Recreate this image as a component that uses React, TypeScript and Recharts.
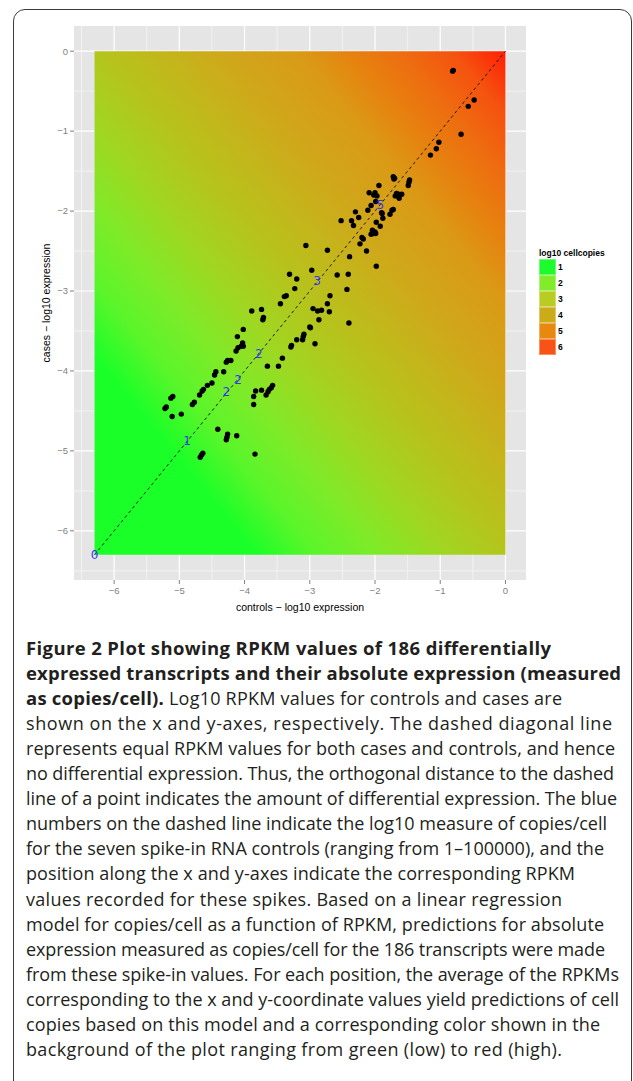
import {
  ScatterChart,
  Scatter,
  XAxis,
  YAxis,
  CartesianGrid,
  ReferenceArea,
  ReferenceLine,
  Label,
} from "recharts";

// log10 RPKM: [controls, cases]
const transcripts: [number, number][] = [
  [-0.80, -0.24], [-0.81, -0.25], [-0.48, -0.61], [-0.57, -0.69],
  [-0.68, -1.04], [-1.02, -1.14], [-1.06, -1.22], [-1.15, -1.30],
  [-1.72, -1.57], [-1.70, -1.59], [-1.71, -1.60], [-1.47, -1.61],
  [-1.48, -1.64], [-1.49, -1.68], [-1.94, -1.68], [-2.09, -1.77],
  [-2.00, -1.77], [-1.97, -1.81], [-2.02, -1.80], [-1.67, -1.78],
  [-1.64, -1.79], [-1.62, -1.80], [-1.69, -1.81], [-1.63, -1.84],
  [-1.59, -1.79], [-2.06, -1.93], [-1.99, -1.88], [-1.72, -1.98],
  [-1.74, -1.99], [-1.77, -2.04], [-1.90, -2.02], [-1.89, -2.03],
  [-2.11, -1.99], [-2.30, -2.01], [-2.25, -2.08], [-2.52, -2.12],
  [-2.36, -2.12], [-2.33, -2.18], [-1.88, -2.09], [-1.98, -2.14],
  [-1.92, -2.19], [-2.04, -2.24], [-2.00, -2.26], [-2.03, -2.28],
  [-2.06, -2.29], [-1.99, -2.28], [-2.20, -2.33], [-2.18, -2.35],
  [-2.23, -2.41], [-2.13, -2.50], [-1.98, -2.69], [-3.06, -2.43],
  [-2.73, -2.49], [-2.39, -2.57], [-2.97, -2.74], [-2.58, -2.80],
  [-2.41, -2.79], [-3.31, -2.79], [-3.20, -2.85], [-3.23, -2.97],
  [-3.36, -3.06], [-3.39, -3.07], [-3.45, -3.16], [-2.43, -2.98],
  [-2.69, -3.06], [-2.73, -3.16], [-2.95, -3.22], [-2.88, -3.25],
  [-2.82, -3.24], [-2.70, -3.26], [-2.86, -3.36], [-2.99, -3.46],
  [-3.00, -3.45], [-2.40, -3.40], [-3.09, -3.54], [-3.10, -3.57],
  [-3.11, -3.61], [-3.20, -3.61], [-3.28, -3.68], [-3.29, -3.70],
  [-2.92, -3.66], [-3.74, -3.23], [-3.89, -3.25], [-3.71, -3.33],
  [-3.72, -3.36], [-4.02, -3.48], [-4.11, -3.57], [-4.03, -3.65],
  [-4.05, -3.69], [-4.10, -3.71], [-4.02, -3.69], [-4.13, -3.75],
  [-4.26, -3.87], [-4.21, -3.87], [-4.28, -3.89], [-3.42, -3.84],
  [-3.48, -3.94], [-3.65, -3.94], [-4.44, -4.01], [-4.46, -4.05],
  [-4.32, -4.01], [-4.50, -4.15], [-4.57, -4.18], [-4.63, -4.23],
  [-4.65, -4.25], [-4.69, -4.30], [-4.77, -4.39], [-4.80, -4.42],
  [-5.10, -4.32], [-5.13, -4.34], [-5.22, -4.47], [-5.20, -4.45],
  [-5.11, -4.57], [-4.97, -4.54], [-3.57, -4.18], [-3.59, -4.21],
  [-3.62, -4.23], [-3.64, -4.26], [-3.67, -4.30], [-3.74, -4.24],
  [-3.83, -4.25], [-3.86, -4.32], [-3.86, -4.42], [-4.41, -4.73],
  [-4.26, -4.79], [-4.27, -4.83], [-4.28, -4.86], [-4.12, -4.81],
  [-4.64, -5.03], [-4.66, -5.05], [-4.68, -5.08], [-3.84, -5.04],
];

// spike-in RNA controls (log10 copies/cell)
const spikeControls = [-6.3, -4.88, -4.28, -4.1, -3.78, -2.89, -1.92];
const spikeCases = [-6.3, -4.88, -4.26, -4.11, -3.79, -2.88, -1.92];
const spikeLabels = ["0", "1", "2", "2", "2", "3", "5"];

const axisTicks = [-6, -5, -4, -3, -2, -1, 0];
const minorTicks = [-6.5, -5.5, -4.5, -3.5, -2.5, -1.5, -0.5];
const AXIS_DOMAIN: [number, number] = [-6.615, 0.315];
const BG_MIN = -6.3;
const BG_MAX = 0;

// background colour by mean log10 RPKM of x and y
const gradientValues = [-6.3, -5.05, -4.6, -4.1, -3.6, -3.1, -2.6, -2.2, -1.6, -1.2, -0.8, -0.4, 0];
const gradientColors = [
  "#1bff28", "#1bff28", "#5af52a", "#80ea28", "#a0d621", "#b5c41c", "#c4b51b",
  "#cfa81a", "#da9a16", "#e6820f", "#ee6c10", "#f5520f", "#ff1e05",
];

const legendLevels = ["1", "2", "3", "4", "5", "6"];
const legendColors = ["#1cfb2b", "#82ec2a", "#b9cc22", "#ccab19", "#e8880f", "#f95215"];

const captionLines: { bold?: string; text?: string }[] = [
  { bold: "Figure 2 Plot showing RPKM values of 186 differentially" },
  { bold: "expressed transcripts and their absolute expression (measured" },
  { bold: "as copies/cell).", text: " Log10 RPKM values for controls and cases are" },
  { text: "shown on the x and y-axes, respectively. The dashed diagonal line" },
  { text: "represents equal RPKM values for both cases and controls, and hence" },
  { text: "no differential expression. Thus, the orthogonal distance to the dashed" },
  { text: "line of a point indicates the amount of differential expression. The blue" },
  { text: "numbers on the dashed line indicate the log10 measure of copies/cell" },
  { text: "for the seven spike-in RNA controls (ranging from 1\u2013100000), and the" },
  { text: "position along the x and y-axes indicate the corresponding RPKM" },
  { text: "values recorded for these spikes. Based on a linear regression" },
  { text: "model for copies/cell as a function of RPKM, predictions for absolute" },
  { text: "expression measured as copies/cell for the 186 transcripts were made" },
  { text: "from these spike-in values. For each position, the average of the RPKMs" },
  { text: "corresponding to the x and y-coordinate values yield predictions of cell" },
  { text: "copies based on this model and a corresponding color shown in the" },
  { text: "background of the plot ranging from green (low) to red (high)." },
];
// set widths of the typeset caption lines
const captionWidths = [525, 595, 536, 586, 589, 588, 591, 581, 578, 549, 536, 578, 579, 593, 593, 574, 536];

const fmtTick = (v: number) => (v === 0 ? "0" : `\u2212${Math.abs(v)}`);
const tickStyle = { fill: "#7f7f7f", fontSize: 9.5, fontFamily: "Liberation Sans, Arial, sans-serif" };

export default function App() {
  const pointData = transcripts.map(([x, y]) => ({ x, y }));
  const spikeData = spikeControls.map((x, i) => ({ x, y: spikeCases[i], label: spikeLabels[i] }));

  return (
    <div
      style={{
        position: "absolute",
        left: 0,
        top: 0,
        width: 633,
        height: 1081,
        overflow: "hidden",
        background: "#fff",
      }}
    >
      {/* figure frame */}
      <div
        style={{
          position: "absolute",
          left: 13,
          top: 9,
          width: 617,
          height: 1100,
          border: "1.5px solid #3a3a3a",
          borderRadius: 12,
        }}
      />

      <div style={{ position: "absolute", left: 0, top: 0 }}>
        <ScatterChart
          width={633}
          height={625}
          margin={{ top: 26, right: 107, bottom: 11, left: 34 }}
        >
          <defs>
            <linearGradient id="cellGrad" x1="0" y1="1" x2="1" y2="0">
              {gradientValues.map((v, i) => (
                <stop
                  key={i}
                  offset={(v - BG_MIN) / (BG_MAX - BG_MIN)}
                  stopColor={gradientColors[i]}
                />
              ))}
            </linearGradient>
          </defs>
          <CartesianGrid
            fill="#e5e5e5"
            stroke="#f2f2f2"
            strokeWidth={1}
            horizontalValues={minorTicks}
            verticalValues={minorTicks}
          />
          <CartesianGrid
            stroke="#ffffff"
            strokeWidth={1.2}
            horizontalValues={axisTicks}
            verticalValues={axisTicks}
          />
          <XAxis
            type="number"
            dataKey="x"
            domain={AXIS_DOMAIN}
            ticks={axisTicks}
            tickFormatter={fmtTick}
            allowDataOverflow
            height={34}
            axisLine={false}
            tickSize={4}
            tickMargin={3}
            tickLine={{ stroke: "#7f7f7f" }}
            tick={tickStyle}
          >
            <Label
              value="controls − log10 expression"
              position="insideBottom"
              offset={3}
              fill="#000"
              fontSize={10.5}
              fontFamily="Liberation Sans, Arial, sans-serif"
            />
          </XAxis>
          <YAxis
            type="number"
            dataKey="y"
            domain={AXIS_DOMAIN}
            ticks={axisTicks}
            tickFormatter={fmtTick}
            allowDataOverflow
            width={40}
            axisLine={false}
            tickSize={4}
            tickMargin={2}
            tickLine={{ stroke: "#7f7f7f" }}
            tick={tickStyle}
          >
            <Label
              value="cases − log10 expression"
              angle={-90}
              position="insideLeft"
              offset={12}
              fill="#000"
              fontSize={10.5}
              fontFamily="Liberation Sans, Arial, sans-serif"
              style={{ textAnchor: "middle" }}
            />
          </YAxis>
          <ReferenceArea
            x1={BG_MIN}
            x2={BG_MAX}
            y1={BG_MIN}
            y2={BG_MAX}
            fill="url(#cellGrad)"
            fillOpacity={1}
            stroke="none"
          />
          <ReferenceLine
            segment={[
              { x: BG_MIN, y: BG_MIN },
              { x: BG_MAX, y: BG_MAX },
            ]}
            stroke="#1a1a1a"
            strokeWidth={1}
            strokeDasharray="3 3"
          />
          <Scatter
            data={pointData}
            isAnimationActive={false}
            shape={(p: any) => <circle cx={p.cx} cy={p.cy} r={2.7} fill="#000" />}
          />
          <Scatter
            data={spikeData}
            isAnimationActive={false}
            shape={(p: any) => (
              <text
                x={p.cx}
                y={p.cy}
                textAnchor="middle"
                dominantBaseline="central"
                fontSize={12}
                fontFamily="DejaVu Sans, sans-serif"
                fill="#3535f5"
              >
                {p.payload.label}
              </text>
            )}
          />
        </ScatterChart>
      </div>

      {/* legend */}
      <div
        style={{
          position: "absolute",
          left: 539,
          top: 247,
          fontFamily: "Liberation Sans, Arial, sans-serif",
          fontWeight: 700,
          fontSize: 8.5,
          color: "#000",
        }}
      >
        <div style={{ height: 12, lineHeight: "12px", whiteSpace: "nowrap" }}>log10 cellcopies</div>
        {legendLevels.map((lv, i) => (
          <div key={lv} style={{ display: "flex", alignItems: "center", height: 16 }}>
            <div
              style={{
                width: 17,
                height: 16,
                background: legendColors[i],
                boxSizing: "border-box",
                border: "0.5px solid rgba(255,255,255,0.35)",
              }}
            />
            <span style={{ marginLeft: 2 }}>{lv}</span>
          </div>
        ))}
      </div>

      {/* caption */}
      <svg
        width={633}
        height={460}
        style={{ position: "absolute", left: 0, top: 620 }}
        fontFamily="Open Sans, sans-serif"
        fontSize={18}
        fill="#231f20"
      >
        {captionLines.map((ln, i) => (
          <text
            key={i}
            x={26}
            y={34.5 + i * 25.1}
            textLength={captionWidths[i]}
            lengthAdjust="spacing"
          >
            {ln.bold && (
              <tspan fontWeight={700} fontSize={18.5}>
                {ln.bold}
              </tspan>
            )}
            {ln.text && <tspan>{ln.text}</tspan>}
          </text>
        ))}
      </svg>
    </div>
  );
}
